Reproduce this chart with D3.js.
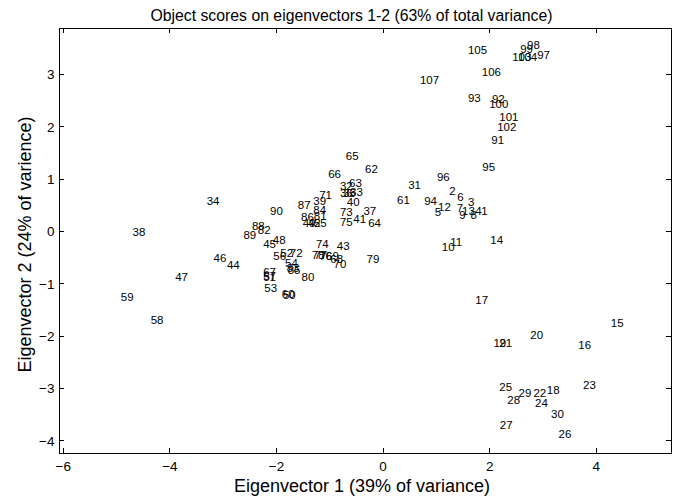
<!DOCTYPE html>
<html><head><meta charset="utf-8">
<script src="https://cdn.jsdelivr.net/npm/d3@7/dist/d3.min.js"></script>
<style>
html,body{margin:0;padding:0;background:#fff;}
text{font-family:"Liberation Sans",Arial,Helvetica,sans-serif;fill:#000;}
</style></head>
<body><svg id="c" width="678" height="496"></svg>
<script>
const titleText = "Object scores on eigenvectors 1-2 (63% of total variance)";
const xTitle = "Eigenvector 1 (39% of variance)";
const yTitle = "Eigenvector 2 (24% of varience)";
const xTicks = [-6, -4, -2, 0, 2, 4];
const yTicks = [-4, -3, -2, -1, 0, 1, 2, 3];

const pointLabels = [
  "1","2","3","4","5","6","7","8","9","10",
  "11","12","13","14","15","16","17","18","19","20",
  "21","22","23","24","25","26","27","28","29","30",
  "31","32","33","34","35","36","37","38","39","40",
  "41","42","43","44","45","46","47","48","49","50",
  "51","52","53","54","55","56","57","58","59","60",
  "61","62","63","64","65","66","67","68","69","70",
  "71","72","73","74","75","76","77","78","79","80",
  "81","82","83","84","85","86","87","88","89","90",
  "91","92","93","94","95","96","97","98","99","100",
  "101","102","103","104","105","106","107"
];
const eig1 = [
  1.85, 1.25, 1.60, 1.74, 0.98, 1.40, 1.39, 1.65, 1.44, 1.11,
  1.27, 1.04, 1.49, 2.02, 4.28, 3.67, 1.74, 3.08, 2.08, 2.77,
  2.19, 2.83, 3.76, 2.86, 2.19, 3.30, 2.20, 2.34, 2.55, 3.16,
  0.48, -0.80, -0.61, -3.30, -0.74, -0.80, -0.36, -4.69, -1.30, -0.67,
  -0.55, -1.40, -0.86, -2.92, -2.24, -3.17, -3.89, -2.06, -1.50, -1.87,
  -2.24, -1.92, -2.22, -1.83, -1.29, -2.05, -2.24, -4.35, -4.91, -1.89,
  0.27, -0.33, -0.63, -0.27, -0.69, -1.02, -2.24, -0.98, -1.06, -0.92,
  -1.19, -1.74, -0.80, -1.25, -0.80, -1.19, -1.28, -1.33, -0.30, -1.52,
  -1.29, -2.34, -1.80, -1.30, -1.78, -1.53, -1.59, -2.45, -2.61, -2.11,
  2.04, 2.05, 1.60, 0.78, 1.87, 1.02, 2.90, 2.71, 2.58, 2.00,
  2.19, 2.15, 2.43, 2.54, 1.60, 1.86, 0.70
];
const eig2 = [
  0.38, 0.77, 0.56, 0.39, 0.37, 0.66, 0.44, 0.31, 0.31, -0.30,
  -0.21, 0.46, 0.39, -0.17, -1.76, -2.18, -1.31, -3.03, -2.13, -1.99,
  -2.13, -3.10, -2.93, -3.28, -2.98, -3.88, -3.71, -3.22, -3.10, -3.49,
  0.88, 0.86, 0.74, 0.57, 0.73, 0.73, 0.39, -0.01, 0.58, 0.56,
  0.24, 0.16, -0.29, -0.64, -0.25, -0.51, -0.87, -0.17, 0.15, -1.21,
  -0.88, -0.42, -1.08, -0.60, 0.16, -0.48, -0.85, -1.70, -1.26, -1.20,
  0.59, 1.18, 0.92, 0.16, 1.43, 1.10, -0.78, -0.54, -0.47, -0.62,
  0.70, -0.41, 0.37, -0.24, 0.17, -0.48, -0.46, -0.46, -0.54, -0.87,
  0.30, 0.03, -0.71, 0.41, -0.75, 0.27, 0.51, 0.10, -0.08, 0.39,
  1.74, 2.52, 2.54, 0.58, 1.22, 1.04, 3.37, 3.55, 3.48, 2.44,
  2.18, 1.99, 3.33, 3.33, 3.46, 3.05, 2.89
];

const svg = d3.select("#c");
const L = 59, R = 671, T = 28, B = 453;
const x = d3.scaleLinear().domain([-6.07, 5.41]).range([L, R]);
const y = d3.scaleLinear().domain([-4.24, 3.88]).range([B, T]);
const tickLen = 5;

// frame
svg.append("rect").attr("x", L).attr("y", T).attr("width", R - L).attr("height", B - T)
  .attr("fill", "none").attr("stroke", "#000").attr("stroke-width", 1).attr("shape-rendering", "crispEdges");

// axes using d3 axis generators (ticks inward)
const xb = svg.append("g").attr("transform", `translate(0,${B})`)
  .call(d3.axisBottom(x).tickValues(xTicks).tickSizeInner(-tickLen).tickSizeOuter(0).tickPadding(8.5).tickFormat(d3.format("d")));
const xt = svg.append("g").attr("transform", `translate(0,${T})`)
  .call(d3.axisTop(x).tickValues(xTicks).tickSizeInner(-tickLen).tickSizeOuter(0).tickFormat(""));
const yl = svg.append("g").attr("transform", `translate(${L},0)`)
  .call(d3.axisLeft(y).tickValues(yTicks).tickSizeInner(-tickLen).tickSizeOuter(0).tickPadding(4.5).tickFormat(d3.format("d")));
const yr = svg.append("g").attr("transform", `translate(${R},0)`)
  .call(d3.axisRight(y).tickValues(yTicks).tickSizeInner(-tickLen).tickSizeOuter(0).tickFormat(""));
[xb, xt, yl, yr].forEach(g => {
  g.select(".domain").remove();
  g.selectAll("line").attr("stroke", "#000").attr("shape-rendering", "crispEdges");
  g.selectAll("text").attr("font-size", 13.5).attr("font-family", '"Liberation Sans",Arial,sans-serif').attr("fill", "#000");
});
yl.selectAll("text").attr("dy", "0.36em");

// point labels
svg.append("g").selectAll("text").data(pointLabels).join("text")
  .attr("x", (d, i) => x(eig1[i]))
  .attr("y", (d, i) => y(eig2[i]))
  .attr("dy", "0.36em")
  .attr("font-size", 11.5)
  .text(d => d);

// titles
svg.append("text").attr("x", 351.5).attr("y", 21).attr("text-anchor", "middle")
  .attr("font-size", 15.8).text(titleText);
svg.append("text").attr("x", 362).attr("y", 492).attr("text-anchor", "middle")
  .attr("font-size", 18).text(xTitle);
svg.append("text").attr("transform", `translate(31,${(T + B) / 2 + 4}) rotate(-90)`)
  .attr("text-anchor", "middle").attr("font-size", 18).text(yTitle);
</script></body></html>
